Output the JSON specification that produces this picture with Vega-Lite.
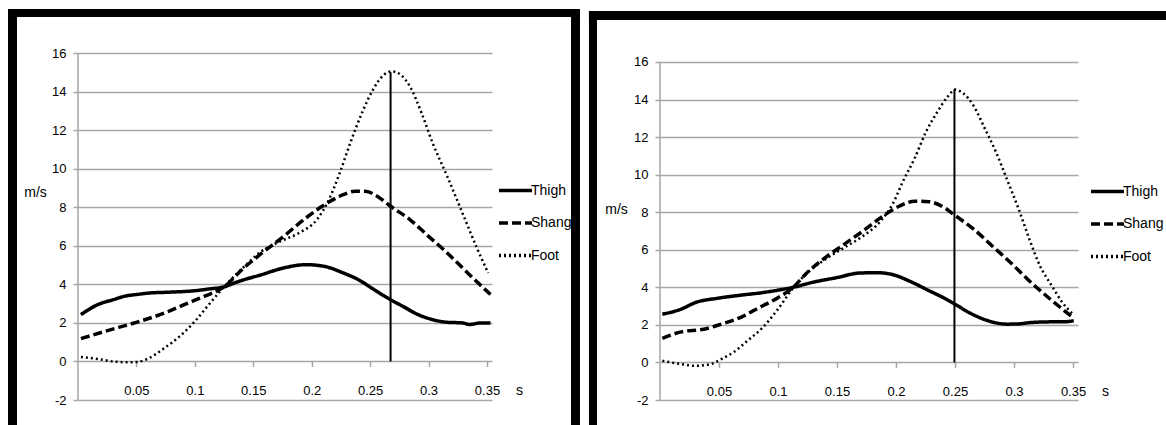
{
  "$schema": "https://vega.github.io/schema/vega-lite/v6.json",
  "padding": {"left": 8, "top": 9, "right": 0, "bottom": 0},
  "background": "white",
  "spacing": 8,
  "resolve": {"scale": {"strokeDash": "independent"}, "legend": {"strokeDash": "independent"}},
  "config": {
    "view": {"stroke": null},
    "font": "Liberation Sans Narrow, Arial Narrow, Liberation Sans, sans-serif",
    "axis": {"labelColor": "#000", "titleColor": "#000", "labelFont": "Liberation Sans Narrow, Arial Narrow, Liberation Sans, sans-serif", "titleFont": "Liberation Sans Narrow, Arial Narrow, Liberation Sans, sans-serif"},
    "legend": {"labelFont": "Liberation Sans Narrow, Arial Narrow, Liberation Sans, sans-serif", "labelColor": "#000"}
  },
  "datasets": {
    "p1": [
      {"t": 0.0025, "v": 2.43, "part": "Thigh"}, {"t": 0.017, "v": 2.95, "part": "Thigh"}, {"t": 0.03, "v": 3.2, "part": "Thigh"}, {"t": 0.042, "v": 3.41, "part": "Thigh"}, {"t": 0.05, "v": 3.47, "part": "Thigh"}, {"t": 0.061, "v": 3.55, "part": "Thigh"}, {"t": 0.077, "v": 3.59, "part": "Thigh"}, {"t": 0.1, "v": 3.67, "part": "Thigh"}, {"t": 0.112, "v": 3.76, "part": "Thigh"}, {"t": 0.125, "v": 3.87, "part": "Thigh"}, {"t": 0.138, "v": 4.16, "part": "Thigh"}, {"t": 0.157, "v": 4.5, "part": "Thigh"}, {"t": 0.176, "v": 4.85, "part": "Thigh"}, {"t": 0.195, "v": 5.02, "part": "Thigh"}, {"t": 0.211, "v": 4.93, "part": "Thigh"}, {"t": 0.227, "v": 4.59, "part": "Thigh"}, {"t": 0.24, "v": 4.24, "part": "Thigh"}, {"t": 0.2525, "v": 3.76, "part": "Thigh"}, {"t": 0.2675, "v": 3.2, "part": "Thigh"}, {"t": 0.278, "v": 2.86, "part": "Thigh"}, {"t": 0.291, "v": 2.43, "part": "Thigh"}, {"t": 0.3035, "v": 2.17, "part": "Thigh"}, {"t": 0.316, "v": 2.03, "part": "Thigh"}, {"t": 0.329, "v": 2.0, "part": "Thigh"}, {"t": 0.335, "v": 1.92, "part": "Thigh"}, {"t": 0.345, "v": 2.0, "part": "Thigh"}, {"t": 0.353, "v": 2.0, "part": "Thigh"},
      {"t": 0.0025, "v": 1.18, "part": "Shang"}, {"t": 0.023, "v": 1.56, "part": "Shang"}, {"t": 0.05, "v": 2.03, "part": "Shang"}, {"t": 0.074, "v": 2.51, "part": "Shang"}, {"t": 0.093, "v": 3.0, "part": "Shang"}, {"t": 0.109, "v": 3.4, "part": "Shang"}, {"t": 0.125, "v": 3.87, "part": "Shang"}, {"t": 0.141, "v": 4.8, "part": "Shang"}, {"t": 0.157, "v": 5.6, "part": "Shang"}, {"t": 0.176, "v": 6.49, "part": "Shang"}, {"t": 0.195, "v": 7.44, "part": "Shang"}, {"t": 0.211, "v": 8.13, "part": "Shang"}, {"t": 0.227, "v": 8.65, "part": "Shang"}, {"t": 0.237, "v": 8.83, "part": "Shang"}, {"t": 0.246, "v": 8.83, "part": "Shang"}, {"t": 0.256, "v": 8.57, "part": "Shang"}, {"t": 0.2675, "v": 8.05, "part": "Shang"}, {"t": 0.284, "v": 7.36, "part": "Shang"}, {"t": 0.3, "v": 6.49, "part": "Shang"}, {"t": 0.316, "v": 5.63, "part": "Shang"}, {"t": 0.332, "v": 4.68, "part": "Shang"}, {"t": 0.353, "v": 3.47, "part": "Shang"},
      {"t": 0.0025, "v": 0.23, "part": "Foot"}, {"t": 0.017, "v": 0.13, "part": "Foot"}, {"t": 0.03, "v": 0.0, "part": "Foot"}, {"t": 0.042, "v": -0.04, "part": "Foot"}, {"t": 0.05, "v": -0.03, "part": "Foot"}, {"t": 0.061, "v": 0.18, "part": "Foot"}, {"t": 0.074, "v": 0.7, "part": "Foot"}, {"t": 0.087, "v": 1.3, "part": "Foot"}, {"t": 0.1, "v": 2.08, "part": "Foot"}, {"t": 0.112, "v": 2.95, "part": "Foot"}, {"t": 0.125, "v": 3.87, "part": "Foot"}, {"t": 0.141, "v": 4.85, "part": "Foot"}, {"t": 0.157, "v": 5.71, "part": "Foot"}, {"t": 0.173, "v": 6.23, "part": "Foot"}, {"t": 0.189, "v": 6.66, "part": "Foot"}, {"t": 0.205, "v": 7.4, "part": "Foot"}, {"t": 0.214, "v": 8.3, "part": "Foot"}, {"t": 0.224, "v": 9.78, "part": "Foot"}, {"t": 0.233, "v": 11.33, "part": "Foot"}, {"t": 0.243, "v": 12.89, "part": "Foot"}, {"t": 0.2525, "v": 14.1, "part": "Foot"}, {"t": 0.262, "v": 14.88, "part": "Foot"}, {"t": 0.2685, "v": 15.05, "part": "Foot"}, {"t": 0.276, "v": 14.88, "part": "Foot"}, {"t": 0.284, "v": 14.27, "part": "Foot"}, {"t": 0.294, "v": 12.89, "part": "Foot"}, {"t": 0.3035, "v": 11.33, "part": "Foot"}, {"t": 0.316, "v": 9.6, "part": "Foot"}, {"t": 0.329, "v": 7.7, "part": "Foot"}, {"t": 0.342, "v": 5.8, "part": "Foot"}, {"t": 0.351, "v": 4.59, "part": "Foot"}
    ],
    "p2": [
      {"t": 0.002, "v": 2.57, "part": "Thigh"}, {"t": 0.018, "v": 2.84, "part": "Thigh"}, {"t": 0.03, "v": 3.19, "part": "Thigh"}, {"t": 0.049, "v": 3.42, "part": "Thigh"}, {"t": 0.068, "v": 3.58, "part": "Thigh"}, {"t": 0.087, "v": 3.72, "part": "Thigh"}, {"t": 0.1, "v": 3.85, "part": "Thigh"}, {"t": 0.112, "v": 3.99, "part": "Thigh"}, {"t": 0.131, "v": 4.29, "part": "Thigh"}, {"t": 0.15, "v": 4.52, "part": "Thigh"}, {"t": 0.169, "v": 4.76, "part": "Thigh"}, {"t": 0.184, "v": 4.78, "part": "Thigh"}, {"t": 0.197, "v": 4.68, "part": "Thigh"}, {"t": 0.2125, "v": 4.3, "part": "Thigh"}, {"t": 0.228, "v": 3.82, "part": "Thigh"}, {"t": 0.241, "v": 3.42, "part": "Thigh"}, {"t": 0.25, "v": 3.1, "part": "Thigh"}, {"t": 0.263, "v": 2.62, "part": "Thigh"}, {"t": 0.278, "v": 2.22, "part": "Thigh"}, {"t": 0.294, "v": 2.04, "part": "Thigh"}, {"t": 0.3035, "v": 2.05, "part": "Thigh"}, {"t": 0.313, "v": 2.12, "part": "Thigh"}, {"t": 0.329, "v": 2.16, "part": "Thigh"}, {"t": 0.344, "v": 2.17, "part": "Thigh"}, {"t": 0.3506, "v": 2.22, "part": "Thigh"},
      {"t": 0.002, "v": 1.28, "part": "Shang"}, {"t": 0.018, "v": 1.63, "part": "Shang"}, {"t": 0.037, "v": 1.77, "part": "Shang"}, {"t": 0.052, "v": 2.04, "part": "Shang"}, {"t": 0.068, "v": 2.39, "part": "Shang"}, {"t": 0.084, "v": 2.92, "part": "Shang"}, {"t": 0.1, "v": 3.45, "part": "Shang"}, {"t": 0.112, "v": 3.95, "part": "Shang"}, {"t": 0.125, "v": 4.8, "part": "Shang"}, {"t": 0.14, "v": 5.58, "part": "Shang"}, {"t": 0.156, "v": 6.29, "part": "Shang"}, {"t": 0.172, "v": 7.0, "part": "Shang"}, {"t": 0.187, "v": 7.71, "part": "Shang"}, {"t": 0.203, "v": 8.33, "part": "Shang"}, {"t": 0.216, "v": 8.59, "part": "Shang"}, {"t": 0.228, "v": 8.56, "part": "Shang"}, {"t": 0.241, "v": 8.24, "part": "Shang"}, {"t": 0.25, "v": 7.83, "part": "Shang"}, {"t": 0.266, "v": 7.09, "part": "Shang"}, {"t": 0.2815, "v": 6.2, "part": "Shang"}, {"t": 0.297, "v": 5.32, "part": "Shang"}, {"t": 0.313, "v": 4.34, "part": "Shang"}, {"t": 0.329, "v": 3.46, "part": "Shang"}, {"t": 0.341, "v": 2.84, "part": "Shang"}, {"t": 0.35, "v": 2.39, "part": "Shang"},
      {"t": 0.002, "v": 0.09, "part": "Foot"}, {"t": 0.018, "v": -0.09, "part": "Foot"}, {"t": 0.03, "v": -0.18, "part": "Foot"}, {"t": 0.043, "v": -0.09, "part": "Foot"}, {"t": 0.052, "v": 0.18, "part": "Foot"}, {"t": 0.062, "v": 0.53, "part": "Foot"}, {"t": 0.074, "v": 1.15, "part": "Foot"}, {"t": 0.087, "v": 1.86, "part": "Foot"}, {"t": 0.1, "v": 2.84, "part": "Foot"}, {"t": 0.112, "v": 3.9, "part": "Foot"}, {"t": 0.125, "v": 4.78, "part": "Foot"}, {"t": 0.14, "v": 5.49, "part": "Foot"}, {"t": 0.156, "v": 6.11, "part": "Foot"}, {"t": 0.172, "v": 6.73, "part": "Foot"}, {"t": 0.187, "v": 7.53, "part": "Foot"}, {"t": 0.197, "v": 8.42, "part": "Foot"}, {"t": 0.206, "v": 9.66, "part": "Foot"}, {"t": 0.216, "v": 10.9, "part": "Foot"}, {"t": 0.225, "v": 12.23, "part": "Foot"}, {"t": 0.2345, "v": 13.29, "part": "Foot"}, {"t": 0.244, "v": 14.17, "part": "Foot"}, {"t": 0.25, "v": 14.53, "part": "Foot"}, {"t": 0.2565, "v": 14.35, "part": "Foot"}, {"t": 0.266, "v": 13.64, "part": "Foot"}, {"t": 0.275, "v": 12.49, "part": "Foot"}, {"t": 0.285, "v": 11.16, "part": "Foot"}, {"t": 0.294, "v": 9.75, "part": "Foot"}, {"t": 0.3035, "v": 8.24, "part": "Foot"}, {"t": 0.313, "v": 6.56, "part": "Foot"}, {"t": 0.322, "v": 5.14, "part": "Foot"}, {"t": 0.332, "v": 4.08, "part": "Foot"}, {"t": 0.341, "v": 3.19, "part": "Foot"}, {"t": 0.35, "v": 2.57, "part": "Foot"}
    ],
    "pk1": [{"t": 0.2675, "v": 15.0, "base": 0}],
    "pk2": [{"t": 0.2495, "v": 14.55, "base": 0}]
  },
  "hconcat": [
    {
      "width": 414,
      "height": 347,
      "layer": [
        {"data": {"values": [{}]}, "mark": {"type": "rect", "color": "black"},
         "encoding": {"x": {"datum": -0.0599, "type": "quantitative", "scale": {"domain": [0, 0.3543], "nice": false, "zero": false}}, "x2": {"datum": -0.0522}, "y": {"datum": 18.282, "type": "quantitative", "scale": {"domain": [-2, 16], "nice": false, "zero": false}}, "y2": {"datum": -3.297}}},
        {"data": {"values": [{}]}, "mark": {"type": "rect", "color": "black"},
         "encoding": {"x": {"datum": -0.0599, "type": "quantitative"}, "x2": {"datum": 0.4296}, "y": {"datum": 18.282, "type": "quantitative"}, "y2": {"datum": 17.867}}},
        {"data": {"values": [{}]}, "mark": {"type": "rect", "color": "black"},
         "encoding": {"x": {"datum": 0.4219, "type": "quantitative"}, "x2": {"datum": 0.4296}, "y": {"datum": 18.282, "type": "quantitative"}, "y2": {"datum": -3.297}}},
        {"data": {"values": [{}]}, "mark": {"type": "rule", "color": "#a6a6a6", "strokeWidth": 1.5},
         "encoding": {"x": {"datum": 0, "type": "quantitative"}, "y": {"datum": -2, "type": "quantitative"}, "y2": {"datum": 16}}},
        {
          "data": {"name": "p1"},
          "transform": [{"filter": "datum.part === 'Thigh'"}],
          "mark": {"type": "line", "interpolate": "monotone", "color": "black", "strokeWidth": 3.5},
          "encoding": {
            "x": {"field": "t", "type": "quantitative",
              "axis": {"values": [0.05, 0.1, 0.15, 0.2, 0.25, 0.3, 0.35], "labelExpr": "'' + datum.value", "offset": -38.56, "grid": false, "domain": false, "tickSize": 5, "tickColor": "#a6a6a6", "tickWidth": 1.5, "tickCount": 20, "labelPadding": 24, "labelBaseline": "middle", "labelFontSize": 13, "labelFlush": false, "labelOverlap": false, "title": "s", "titleX": 441, "titleY": 29, "titleBaseline": "middle", "titleAlign": "center", "titleFontWeight": "normal", "titleFontSize": 14}},
            "y": {"field": "v", "type": "quantitative",
              "axis": {"values": [-2, 0, 2, 4, 6, 8, 10, 12, 14, 16], "labelExpr": "'' + datum.value", "tickCount": 20, "grid": true, "gridColor": "#a6a6a6", "gridWidth": 1.5, "domain": false, "tickSize": 5, "tickColor": "#a6a6a6", "tickWidth": 1.5, "labelPadding": 7, "labelFontSize": 13, "labelOverlap": false, "title": "m/s", "titleAngle": 0, "titleX": -43, "titleY": 139, "titleAlign": "center", "titleBaseline": "middle", "titleFontWeight": "normal", "titleFontSize": 14}},
            "strokeDash": {"field": "part", "type": "nominal", "scale": {"domain": ["Thigh", "Shang", "Foot"], "range": [[1, 0], [9, 4], [2, 3]]},
              "legend": {"orient": "none", "legendX": 419, "legendY": 119, "title": null, "symbolSize": 1089, "symbolStrokeColor": "black", "symbolStrokeWidth": 3.5, "labelFontSize": 14, "labelOffset": -3, "rowPadding": 6.5, "padding": 0}}
          }
        },
        {
          "data": {"name": "p1"},
          "transform": [{"filter": "datum.part === 'Shang'"}],
          "mark": {"type": "line", "interpolate": "monotone", "color": "black", "strokeWidth": 3.5},
          "encoding": {
            "x": {"field": "t", "type": "quantitative"},
            "y": {"field": "v", "type": "quantitative"},
            "strokeDash": {"field": "part", "type": "nominal"}
          }
        },
        {
          "data": {"name": "p1"},
          "transform": [{"filter": "datum.part === 'Foot'"}],
          "mark": {"type": "line", "interpolate": "monotone", "color": "black", "strokeWidth": 2.5},
          "encoding": {
            "x": {"field": "t", "type": "quantitative"},
            "y": {"field": "v", "type": "quantitative"},
            "strokeDash": {"field": "part", "type": "nominal"}
          }
        },
        {"data": {"name": "pk1"}, "mark": {"type": "rule", "color": "black", "strokeWidth": 2},
         "encoding": {"x": {"field": "t", "type": "quantitative"}, "y": {"field": "v", "type": "quantitative"}, "y2": {"field": "base"}}}
      ]
    },
    {
      "width": 418,
      "height": 347,
      "layer": [
        {"data": {"values": [{}]}, "mark": {"type": "rect", "color": "black"},
         "encoding": {"x": {"datum": -0.0602, "type": "quantitative", "scale": {"domain": [0, 0.3542], "nice": false, "zero": false}}, "x2": {"datum": -0.0534}, "y": {"datum": 18.716, "type": "quantitative", "scale": {"domain": [-2, 16.479], "nice": false, "zero": false}}, "y2": {"datum": -3.331}}},
        {"data": {"values": [{}]}, "mark": {"type": "rect", "color": "black"},
         "encoding": {"x": {"datum": -0.0602, "type": "quantitative"}, "x2": {"datum": 0.4296}, "y": {"datum": 18.716, "type": "quantitative"}, "y2": {"datum": 18.237}}},
        {"data": {"values": [{}]}, "mark": {"type": "rule", "color": "#a6a6a6", "strokeWidth": 1.5},
         "encoding": {"x": {"datum": 0, "type": "quantitative"}, "y": {"datum": -2, "type": "quantitative"}, "y2": {"datum": 16}}},
        {
          "data": {"name": "p2"},
          "transform": [{"filter": "datum.part === 'Thigh'"}],
          "mark": {"type": "line", "interpolate": "monotone", "color": "black", "strokeWidth": 3.5},
          "encoding": {
            "x": {"field": "t", "type": "quantitative",
              "axis": {"values": [0.05, 0.1, 0.15, 0.2, 0.25, 0.3, 0.35], "labelExpr": "'' + datum.value", "offset": -37.6, "grid": false, "domain": false, "tickSize": 5, "tickColor": "#a6a6a6", "tickWidth": 1.5, "tickCount": 20, "labelPadding": 24, "labelBaseline": "middle", "labelFontSize": 13, "labelFlush": false, "labelOverlap": false, "title": "s", "titleX": 445, "titleY": 29, "titleBaseline": "middle", "titleAlign": "center", "titleFontWeight": "normal", "titleFontSize": 14}},
            "y": {"field": "v", "type": "quantitative",
              "axis": {"values": [-2, 0, 2, 4, 6, 8, 10, 12, 14, 16], "labelExpr": "'' + datum.value", "tickCount": 20, "grid": true, "gridColor": "#a6a6a6", "gridWidth": 1.5, "domain": false, "tickSize": 5, "tickColor": "#a6a6a6", "tickWidth": 1.5, "labelPadding": 7, "labelFontSize": 13, "labelOverlap": false, "title": "m/s", "titleAngle": 0, "titleX": -44, "titleY": 156, "titleAlign": "center", "titleBaseline": "middle", "titleFontWeight": "normal", "titleFontSize": 14}},
            "strokeDash": {"field": "part", "type": "nominal", "scale": {"domain": ["Thigh", "Shang", "Foot"], "range": [[1, 0], [9, 4], [2, 3]]},
              "legend": {"orient": "none", "legendX": 429, "legendY": 120, "title": null, "symbolSize": 1089, "symbolStrokeColor": "black", "symbolStrokeWidth": 3.5, "labelFontSize": 14, "labelOffset": -3, "rowPadding": 6.5, "padding": 0}}
          }
        },
        {
          "data": {"name": "p2"},
          "transform": [{"filter": "datum.part === 'Shang'"}],
          "mark": {"type": "line", "interpolate": "monotone", "color": "black", "strokeWidth": 3.5},
          "encoding": {
            "x": {"field": "t", "type": "quantitative"},
            "y": {"field": "v", "type": "quantitative"},
            "strokeDash": {"field": "part", "type": "nominal"}
          }
        },
        {
          "data": {"name": "p2"},
          "transform": [{"filter": "datum.part === 'Foot'"}],
          "mark": {"type": "line", "interpolate": "monotone", "color": "black", "strokeWidth": 2.5},
          "encoding": {
            "x": {"field": "t", "type": "quantitative"},
            "y": {"field": "v", "type": "quantitative"},
            "strokeDash": {"field": "part", "type": "nominal"}
          }
        },
        {"data": {"name": "pk2"}, "mark": {"type": "rule", "color": "black", "strokeWidth": 2},
         "encoding": {"x": {"field": "t", "type": "quantitative"}, "y": {"field": "v", "type": "quantitative"}, "y2": {"field": "base"}}}
      ]
    }
  ]
}
